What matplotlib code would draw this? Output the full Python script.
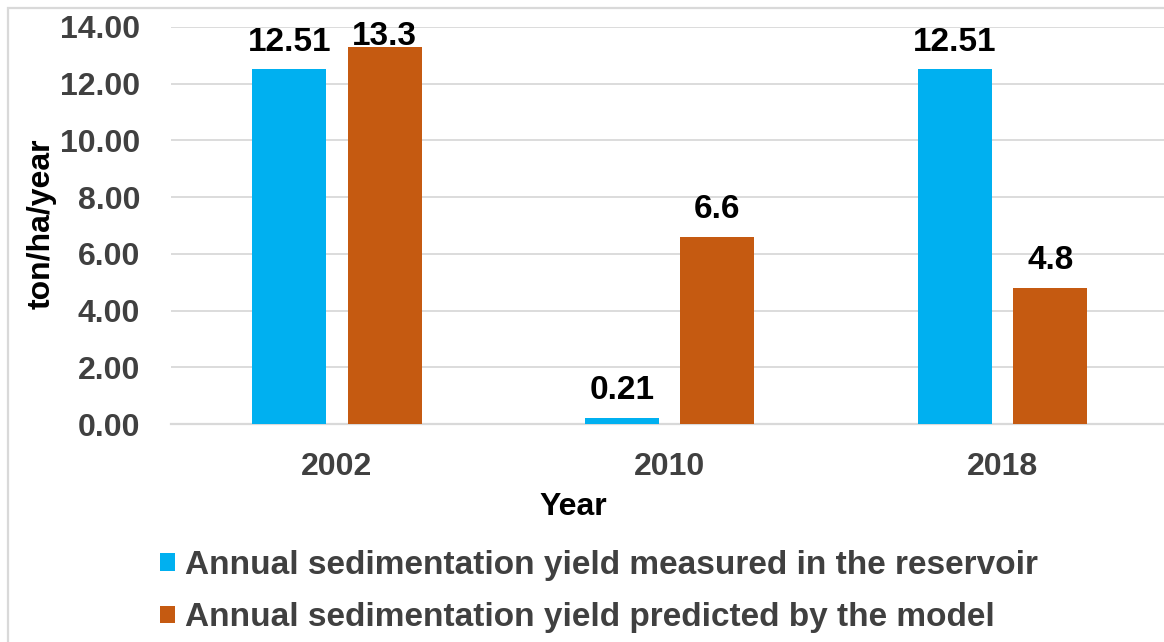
import matplotlib
matplotlib.use("Agg")
import matplotlib.pyplot as plt
import numpy as np
from matplotlib.patches import Rectangle

years = ["2002", "2010", "2018"]
measured = [12.51, 0.21, 12.51]
predicted = [13.3, 6.6, 4.8]
measured_labels = ["12.51", "0.21", "12.51"]
predicted_labels = ["13.3", "6.6", "4.8"]
series_names = ["Annual sedimentation yield measured in the reservoir",
                "Annual sedimentation yield predicted by the model"]
yticks = [0, 2, 4, 6, 8, 10, 12, 14]

BLUE = "#00B0F0"
ORANGE = "#C55A11"
GRID = "#D9D9D9"
TXT = "#404040"

plt.rcParams["font.family"] = ["Liberation Sans", "DejaVu Sans"]
plt.rcParams["font.weight"] = "bold"

fig = plt.figure(figsize=(11.64, 6.42), dpi=100)
ax = fig.add_axes([170.6 / 1164, 218 / 642, 998.4 / 1164, 397 / 642])

x = np.arange(len(years))
w = 0.222
off = 0.143
b1 = ax.bar(x - off, measured, w, color=BLUE, label=series_names[0], zorder=3)
b2 = ax.bar(x + off, predicted, w, color=ORANGE, label=series_names[1], zorder=3)

# value labels sit above each bar, pushed down when they would leave the plot
label_cap = 12.7
for bars, labels in [(b1, measured_labels), (b2, predicted_labels)]:
    for r, lbl in zip(bars, labels):
        ax.annotate(lbl, (r.get_x() + r.get_width() / 2, min(r.get_height(), label_cap)),
                    xytext=(0, 13.5), textcoords="offset points",
                    ha="center", va="baseline", fontsize=24,
                    fontweight="bold", color="black")

ax.set_xlim(-0.5, 2.5)
ax.set_ylim(0, 14)
ax.set_yticks(yticks)
ax.set_yticklabels([f"{v:.2f}" for v in yticks])
ax.set_xticks(x)
ax.set_xticklabels(years)
ax.tick_params(axis="both", length=0, labelsize=23, labelcolor=TXT)
ax.tick_params(axis="y", pad=22)
ax.tick_params(axis="x", pad=20)
ax.grid(axis="y", color=GRID, lw=1.3, zorder=0)
for s in ["top", "right", "left"]:
    ax.spines[s].set_visible(False)
ax.spines["bottom"].set_color(GRID)
ax.spines["bottom"].set_linewidth(1.6)

fig.text(573 / 1164, 1 - 507 / 642, "Year", ha="center", va="center",
         fontsize=23, fontweight="bold", color="black")
fig.text(42 / 1164, 1 - 224 / 642, "ton/ha/year", ha="center", va="center",
         rotation=90, fontsize=23, fontweight="bold", color="black")

fig.legend(handles=[b1, b2], loc="upper left",
           bbox_to_anchor=(130 / 1164, 1 - 520 / 642), frameon=False,
           fontsize=24, handlelength=0.45, handleheight=0.45,
           handletextpad=0.3, labelspacing=0.64, labelcolor=TXT)

# outer frame
fig.patches.append(Rectangle((8 / 1164, -0.1), 1.2, (642 - 8) / 642 + 0.1,
                             transform=fig.transFigure, fill=False,
                             edgecolor=GRID, lw=1.6, zorder=-1))

fig.savefig("out.png", dpi=100)
